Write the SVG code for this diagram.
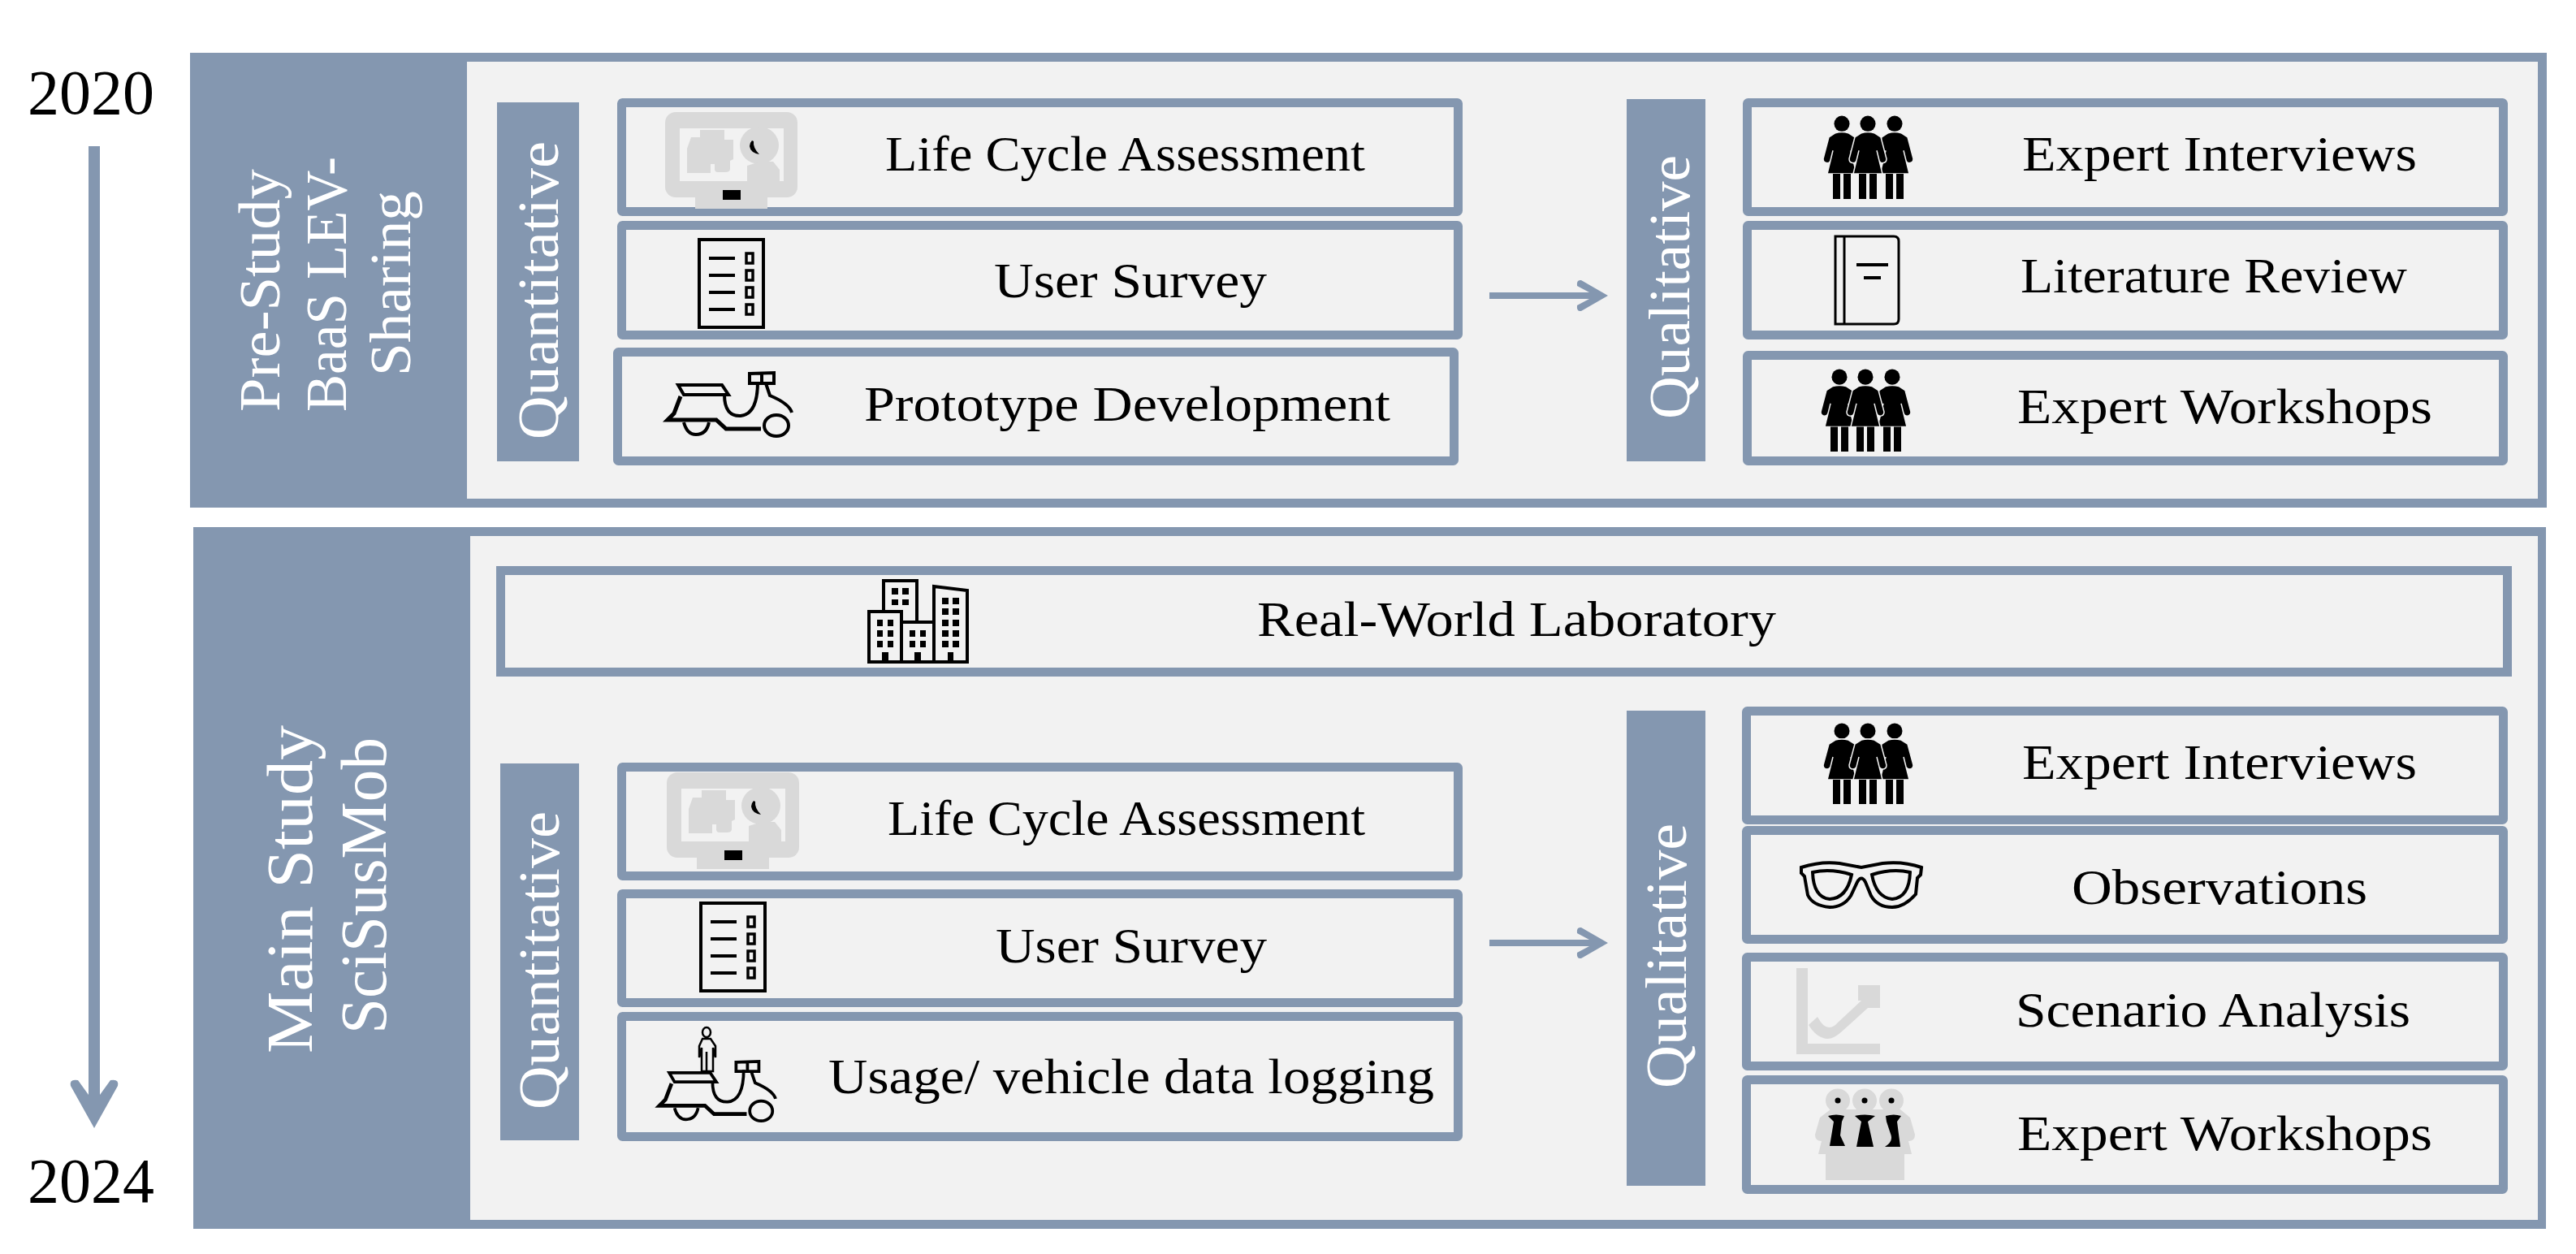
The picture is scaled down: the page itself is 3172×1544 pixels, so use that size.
<svg xmlns="http://www.w3.org/2000/svg" xmlns:xlink="http://www.w3.org/1999/xlink" width="3172" height="1544" viewBox="0 0 3172 1544">
<style>
text{font-family:"Liberation Serif","Times New Roman",serif;fill:#000}
.t{font-size:62px}
.v{font-size:72px;fill:#fff}
.h{font-size:72px;fill:#fff}
.m{font-size:80px;fill:#fff}
.y{font-size:78px}
.blue{fill:#8497B0}
.panel{fill:#F2F2F2}
.box{fill:#F2F2F2;stroke:#8497B0;stroke-width:11;rx:1px}
.k{fill:none;stroke:#000;stroke-width:4}
.kf{fill:#000}
.g{fill:#D9D9D9}
.shaft{stroke:#8497B0;fill:none}
</style>
<defs>
<marker id="headS" viewBox="-42 -24 44 48" refX="-20" refY="0" markerWidth="44" markerHeight="48" markerUnits="userSpaceOnUse" orient="auto"><path class="blue" d="M0,0 L-33,-19 Q-39,-20 -38,-12 L-23,-4 L-23,4 L-38,12 Q-39,20 -33,19 Z"/></marker>
<marker id="headL" viewBox="-64 -34 66 68" refX="-32" refY="0" markerWidth="66" markerHeight="68" markerUnits="userSpaceOnUse" orient="auto"><path class="blue" d="M0,0 L-52,-29 Q-61,-31 -59,-20 L-41,-7 L-41,7 L-59,20 Q-61,31 -52,29 Z"/></marker>
<g id="monitor">
<rect class="g" x="819" y="138" width="163" height="105" rx="13"/>
<rect class="panel" x="837" y="158" width="128" height="65"/>
<rect class="g" x="856" y="243" width="89" height="14"/>
<path class="g" d="M846,213 V183 L851,169 H862 V160 L871,160 H892 V172 H903 V196 L899,198 V208 Q899,212 893,212 H884 Q880,212 880,208 V202 H875 V213 Z"/>
<ellipse class="g" cx="935" cy="179" rx="24" ry="23"/>
<path class="g" d="M920,223 V204 L936,199 L952,199 L960,209 V223 Z"/>
<path class="kf" d="M926,173 L928,174 Q927,182 935,190 Q924,188 923,180 Q923,176 926,173 Z"/>
<rect class="kf" x="890" y="234" width="22" height="12"/>
</g>
<g id="survey">
<rect class="k" x="861" y="295" width="79" height="108"/>
<path class="k" d="M873,318 H905 M873,339 H905 M873,360 H905 M873,381 H905"/>
<rect class="k" style="stroke-width:3.500" x="919" y="312" width="8" height="12"/>
<rect class="k" style="stroke-width:3.500" x="919" y="333" width="8" height="12"/>
<rect class="k" style="stroke-width:3.500" x="919" y="354" width="8" height="12"/>
<rect class="k" style="stroke-width:3.500" x="919" y="375" width="8" height="12"/>
</g>
<g id="scooter">
<path class="k" d="M835,474 H889 L897,486 H842 Z"/>
<path class="k" style="stroke-width:5" d="M838,488 L830,509 L822,517 H882 L894,528 H937"/>
<path class="k" d="M892,486 Q892,513 912,512 Q933,510 933,470"/>
<path class="k" d="M923,460 L953,459 V472 H923 Z M938,460 V472"/>
<path class="k" d="M943,472 L948,487 Q972,497 975,508"/>
<ellipse class="k" cx="956" cy="524" rx="15" ry="13"/>
<path class="k" d="M842,520 Q846,535 857,535 Q870,535 873,520"/>
</g>
<g id="person">
<ellipse class="kf" cx="0" cy="10" rx="9.500" ry="9.500"/>
<path class="kf" style="stroke:#F2F2F2;stroke-width:1.500" d="M-8,21 Q0,19 8,21 L16,26 L23,52 Q23,57 18,57 Q15,57 14,54 L11,42 L18,70 H-18 L-11,42 L-14,54 Q-15,57 -18,57 Q-23,57 -23,52 L-16,26 Z"/>
<path class="kf" d="M-11,70 H-2 V100 H-11 Z M2,70 H11 V100 H2 Z"/>
</g>
<g id="people">
<use xlink:href="#person" x="-32"/><use xlink:href="#person" x="33"/><use xlink:href="#person"/>
</g>
</defs>
<rect width="3172" height="1544" fill="#fff"/>

<g id="year-2020"><text class="y" x="34" y="140">2020</text></g>
<g id="year-2024"><text class="y" x="34" y="1480">2024</text></g>

<g id="pre-study">
<rect class="blue" x="234" y="65" width="2902" height="560"/>
<rect class="panel" x="575" y="76" width="2550" height="538"/>
<text class="h" transform="translate(344,507) rotate(-90)" textLength="299" lengthAdjust="spacingAndGlyphs">Pre-Study</text>
<text class="h" transform="translate(426,507) rotate(-90)" textLength="314" lengthAdjust="spacingAndGlyphs">BaaS LEV-</text>
<text class="h" transform="translate(505,463) rotate(-90)" textLength="228" lengthAdjust="spacingAndGlyphs">Sharing</text>
</g>
<g id="main-study">
<rect class="blue" x="238" y="649" width="2897" height="864"/>
<rect class="panel" x="579" y="660" width="2546" height="842"/>
<text class="m" transform="translate(384,1297) rotate(-90)" textLength="404" lengthAdjust="spacingAndGlyphs">Main Study</text>
<text class="m" transform="translate(475,1273) rotate(-90)" textLength="365" lengthAdjust="spacingAndGlyphs">SciSusMob</text>
</g>

<g id="quant-1"><rect class="blue" x="612" y="126" width="101" height="442"/>
<text class="v" transform="translate(687,541) rotate(-90)" textLength="367" lengthAdjust="spacingAndGlyphs">Quantitative</text></g>
<g id="qual-1"><rect class="blue" x="2003" y="122" width="97" height="446"/>
<text class="v" transform="translate(2080,516) rotate(-90)" textLength="325" lengthAdjust="spacingAndGlyphs">Qualitative</text></g>
<g id="quant-2"><rect class="blue" x="616" y="940" width="97" height="464"/>
<text class="v" transform="translate(688,1366) rotate(-90)" textLength="367" lengthAdjust="spacingAndGlyphs">Quantitative</text></g>
<g id="qual-2"><rect class="blue" x="2003" y="875" width="97" height="585"/>
<text class="v" transform="translate(2076,1340) rotate(-90)" textLength="326" lengthAdjust="spacingAndGlyphs">Qualitative</text></g>

<g id="lca-1"><rect class="box" x="765.500" y="126.500" width="1030" height="134"/>
<use xlink:href="#monitor"/>
<text class="t" x="1090" y="210" textLength="591" lengthAdjust="spacingAndGlyphs">Life Cycle Assessment</text></g>
<g id="survey-1"><rect class="box" x="765.500" y="277.500" width="1030" height="135"/>
<use xlink:href="#survey"/>
<text class="t" x="1224" y="366" textLength="336" lengthAdjust="spacingAndGlyphs">User Survey</text></g>
<g id="prototype"><rect class="box" x="760.500" y="433.500" width="1030" height="134"/>
<use xlink:href="#scooter"/>
<text class="t" x="1064" y="518" textLength="648" lengthAdjust="spacingAndGlyphs">Prototype Development</text></g>

<g id="interviews-1"><rect class="box" x="2151.500" y="126.500" width="931" height="134"/>
<use xlink:href="#people" transform="translate(2300,142) scale(1,1.03)"/>
<text class="t" x="2490" y="210" textLength="486" lengthAdjust="spacingAndGlyphs">Expert Interviews</text></g>
<g id="literature"><rect class="box" x="2151.500" y="277.500" width="931" height="135"/>
<path class="k" style="stroke-width:3" d="M2260,291 H2332 Q2338,291 2338,297 V393 Q2338,399 2332,399 H2260 Z M2271,291 V399"/>
<path class="k" d="M2286,326 H2325 M2295,342 H2316"/>
<text class="t" x="2488" y="360" textLength="476" lengthAdjust="spacingAndGlyphs">Literature Review</text></g>
<g id="workshops-1"><rect class="box" x="2151.500" y="437.500" width="931" height="130"/>
<use xlink:href="#people" transform="translate(2297,454) scale(1,1.02)"/>
<text class="t" x="2484" y="521" textLength="511" lengthAdjust="spacingAndGlyphs">Expert Workshops</text></g>

<g id="real-world-lab"><rect class="box" style="rx:0" x="616.500" y="702.500" width="2471" height="125"/>
<g>
<path class="k" d="M1088,751 V715 H1129 V764"/>
<path class="k" d="M1070,815 V753 H1110 V815 Z"/>
<path class="k" d="M1110,766 H1150"/>
<path class="k" d="M1070,815 H1191 V727 L1150,722 V815"/>
<path class="kf" d="M1098,724h8v8h-8z M1111,724h8v8h-8z M1098,738h8v7h-8z M1111,738h8v7h-8z M1080,763h7v8h-7z M1093,763h7v8h-7z M1080,776h7v8h-7z M1093,776h7v8h-7z M1080,789h7v8h-7z M1093,789h7v8h-7z M1120,776h7v8h-7z M1133,776h7v8h-7z M1120,789h7v8h-7z M1133,789h7v8h-7z M1160,736h8v8h-8z M1173,736h8v8h-8z M1160,749h8v8h-8z M1173,749h8v8h-8z M1160,763h8v8h-8z M1173,763h8v8h-8z M1160,776h8v8h-8z M1173,776h8v8h-8z M1160,789h8v8h-8z M1173,789h8v8h-8z M1086,803h8v14h-8z M1126,803h8v14h-8z M1167,803h7v14h-7z"/>
</g>
<text class="t" x="1548" y="783" textLength="639" lengthAdjust="spacingAndGlyphs">Real-World Laboratory</text></g>

<g id="lca-2"><rect class="box" x="765.500" y="944.500" width="1030" height="134"/>
<use xlink:href="#monitor" transform="translate(2,813)"/>
<text class="t" x="1093" y="1028" textLength="588" lengthAdjust="spacingAndGlyphs">Life Cycle Assessment</text></g>
<g id="survey-2"><rect class="box" x="765.500" y="1100.500" width="1030" height="134"/>
<use xlink:href="#survey" transform="translate(2,817)"/>
<text class="t" x="1226" y="1185" textLength="334" lengthAdjust="spacingAndGlyphs">User Survey</text></g>
<g id="logging"><rect class="box" x="765.500" y="1251.500" width="1030" height="148"/>
<use xlink:href="#scooter" transform="translate(811,1304) scale(.935,.94) translate(-821,-456)"/>
<ellipse cx="870" cy="1271" rx="5" ry="6" class="k" style="stroke-width:2.500"/>
<path class="k" style="stroke-width:2.500" d="M865,1279 H875 L881,1288 V1302 L878,1290 V1319 H864 V1290 L861,1302 V1288 Z M870,1295 V1319"/>
<text class="t" x="1020" y="1346" textLength="746" lengthAdjust="spacingAndGlyphs">Usage/ vehicle data logging</text></g>

<g id="interviews-2"><rect class="box" x="2150.500" y="875.500" width="932" height="134"/>
<use xlink:href="#people" transform="translate(2300,890)"/>
<text class="t" x="2490" y="959" textLength="486" lengthAdjust="spacingAndGlyphs">Expert Interviews</text></g>
<g id="observations"><rect class="box" x="2150.500" y="1022.500" width="932" height="134"/>
<path class="k" d="M2218,1068 Q2243,1060 2265,1063 L2292,1068 L2318,1063 Q2343,1060 2366,1068 L2365,1077 L2361,1081 L2359,1101 Q2345,1117 2330,1117 Q2312,1117 2304,1103 L2297,1086 Q2292,1077 2287,1086 L2279,1103 Q2270,1117 2253,1117 Q2232,1115 2226,1102 L2222,1079 L2218,1075 Z"/>
<path class="k" d="M2232,1074 Q2255,1069 2280,1077 Q2274,1106 2253,1107 Q2233,1105 2232,1074 Z M2305,1077 Q2330,1069 2352,1074 Q2351,1105 2330,1107 Q2310,1105 2305,1077 Z"/>
<text class="t" x="2551" y="1113" textLength="364" lengthAdjust="spacingAndGlyphs">Observations</text></g>
<g id="scenario"><rect class="box" x="2150.500" y="1178.500" width="932" height="134"/>
<path class="g" d="M2212,1192 H2226 V1285 H2315 V1298 H2212 Z M2288,1213 H2315 V1241 H2300 L2268,1270 Q2255,1282 2245,1278 Q2235,1275 2227,1262 L2238,1252 Q2245,1265 2252,1265 Q2258,1265 2263,1259 L2292,1232 H2288 Z"/>
<text class="t" x="2482" y="1264" textLength="486" lengthAdjust="spacingAndGlyphs">Scenario Analysis</text></g>
<g id="workshops-2"><rect class="box" x="2150.500" y="1329.500" width="932" height="135"/>
<path class="g" d="M2248,1421 H2345 V1453 H2248 Z M2239,1421 L2243,1405 Q2235,1405 2235,1397 L2241,1376 L2254,1366 H2340 L2352,1376 L2358,1397 Q2358,1405 2350,1405 L2354,1421 Z"/>
<ellipse class="g" cx="2263" cy="1355" rx="15" ry="14.500"/><ellipse class="g" cx="2296" cy="1355" rx="15" ry="14.500"/><ellipse class="g" cx="2329" cy="1355" rx="15" ry="14.500"/>
<circle class="kf" cx="2263" cy="1355" r="3.500"/><circle class="kf" cx="2296" cy="1355" r="3.500"/><circle class="kf" cx="2329" cy="1355" r="3.500"/>
<path class="kf" d="M2251,1374 Q2261,1371 2271,1374 L2268,1381 L2266,1398 L2272,1411 H2253 L2258,1381 Z M2284,1374 Q2296,1371 2309,1374 L2300,1381 L2307,1412 H2286 L2292,1381 Z M2322,1374 Q2332,1371 2341,1374 L2336,1381 L2340,1412 H2321 Q2332,1405 2328,1396 L2323,1381 Z"/>
<text class="t" x="2484" y="1416" textLength="511" lengthAdjust="spacingAndGlyphs">Expert Workshops</text></g>

<g id="connectors">
<line class="shaft" stroke-width="14" x1="116" y1="180" x2="116" y2="1357" marker-end="url(#headL)"/>
<line class="shaft" stroke-width="8" x1="1834" y1="364" x2="1960" y2="364" marker-end="url(#headS)"/>
<line class="shaft" stroke-width="8" x1="1834" y1="1161" x2="1960" y2="1161" marker-end="url(#headS)"/>
</g>
</svg>
